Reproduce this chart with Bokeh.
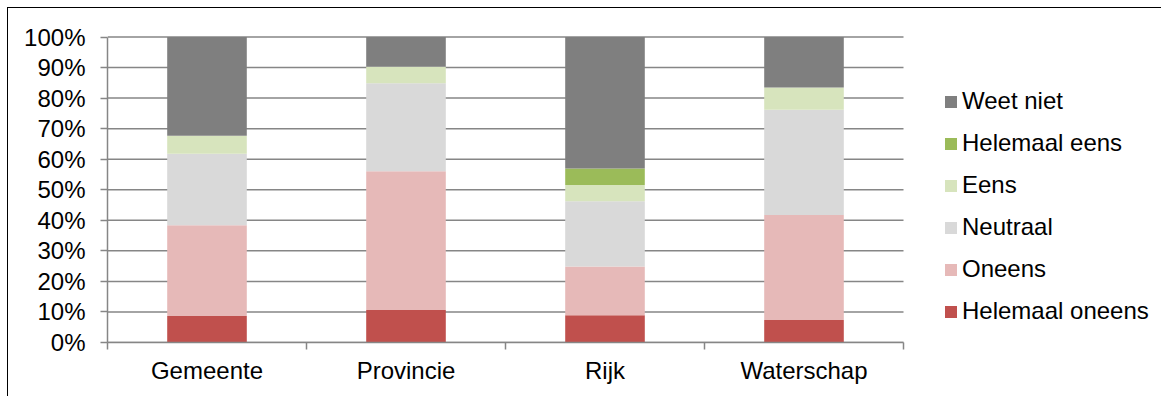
from bokeh.plotting import figure
from bokeh.models import (ColumnDataSource, Legend, LegendItem, FixedTicker,
                          PrintfTickFormatter, Range1d)
from bokeh.embed import file_html
from bokeh.resources import INLINE

# ---- data -------------------------------------------------------------
categories = ["Gemeente", "Provincie", "Rijk", "Waterschap"]
series_names = ["Helemaal oneens", "Oneens", "Neutraal", "Eens",
                "Helemaal eens", "Weet niet"]
helemaal_oneens = [8.7, 10.6, 8.9, 7.4]
oneens = [29.7, 45.5, 16.0, 34.3]
neutraal = [23.4, 28.8, 21.3, 34.5]
eens = [5.9, 5.4, 5.4, 7.3]
helemaal_eens = [0.0, 0.0, 5.4, 0.0]
weet_niet = [32.3, 9.7, 43.0, 16.5]
y_ticks = [0, 10, 20, 30, 40, 50, 60, 70, 80, 90, 100]

colors = ["#C0504D", "#E6B9B8", "#D9D9D9", "#D7E4BD", "#9BBB59", "#7F7F7F"]
keys = ["ho", "o", "n", "e", "he", "wn"]

FONT = "Liberation Sans"
FSIZE = "24px"
GRID = "#868686"

n_cat = len(categories)
x_pos = [i + 0.5 for i in range(n_cat)]
source = ColumnDataSource(dict(x=x_pos, ho=helemaal_oneens, o=oneens,
                               n=neutraal, e=eens, he=helemaal_eens,
                               wn=weet_niet))
grid_src = ColumnDataSource(dict(y=y_ticks, x0=[0] * len(y_ticks),
                                 x1=[n_cat] * len(y_ticks)))

# plot frame spans to the right edge so the legend (right of the bars) is not clipped;
# the category area covers 796 px out of the 1054 px wide frame
p = figure(width=1161, height=396, output_backend="svg", toolbar_location=None,
           x_range=Range1d(0, n_cat * 1054 / 796), y_range=Range1d(0, 100.5),
           min_border_left=107, min_border_right=0, min_border_top=35,
           min_border_bottom=54, outline_line_color=None,
           border_fill_alpha=0)
# outer chart box (top and left edges visible, the rest lies outside the view)
p.styles = {"background": "linear-gradient(#000,#000) 7px 7px / 1px 100% no-repeat, "
                          "linear-gradient(#000,#000) 7px 7px / 100% 1px no-repeat, #ffffff"}

p.xgrid.grid_line_color = None
p.ygrid.grid_line_color = None
# horizontal gridlines limited to the category area
p.segment(x0="x0", x1="x1", y0="y", y1="y", source=grid_src,
          line_color=GRID, line_width=1.5)

renderers = p.vbar_stack(keys, x="x", width=0.4, color=colors, line_color=None,
                         source=source)

# ---- axes -------------------------------------------------------------
xa = p.xaxis[0]
xa.bounds = (0, n_cat)
xa.ticker = FixedTicker(ticks=x_pos, minor_ticks=list(range(n_cat + 1)))
xa.major_label_overrides = {xp: c for xp, c in zip(x_pos, categories)}
xa.major_tick_out = 0
xa.major_tick_in = 0
xa.minor_tick_out = 7
xa.minor_tick_in = 0
xa.minor_tick_line_color = GRID
xa.minor_tick_line_width = 1.5
xa.axis_line_color = GRID
xa.axis_line_width = 1.5
xa.major_label_standoff = 7
xa.major_label_text_font = FONT
xa.major_label_text_font_size = FSIZE
xa.major_label_text_color = "#000000"

ya = p.yaxis[0]
ya.bounds = (0, 100)
ya.ticker = FixedTicker(ticks=y_ticks)
ya.formatter = PrintfTickFormatter(format="%d%%")
ya.major_tick_out = 7
ya.major_tick_in = 0
ya.minor_tick_line_color = None
ya.major_tick_line_color = GRID
ya.major_tick_line_width = 1.5
ya.axis_line_color = GRID
ya.axis_line_width = 1.5
ya.major_label_standoff = 15
ya.major_label_text_font = FONT
ya.major_label_text_font_size = FSIZE
ya.major_label_text_color = "#000000"

# ---- legend -----------------------------------------------------------
items = [LegendItem(label=name, renderers=[r])
         for name, r in zip(series_names, renderers)][::-1]
legend = Legend(items=items, location=(836, 17), orientation="vertical",
                glyph_width=15, glyph_height=15, label_standoff=4,
                label_height=26, spacing=14, padding=0, margin=0,
                border_line_color=None, background_fill_alpha=0,
                label_text_font=FONT, label_text_font_size=FSIZE,
                label_text_color="#000000")
p.add_layout(legend, "center")

open("out.html", "w").write(file_html(p, INLINE))
